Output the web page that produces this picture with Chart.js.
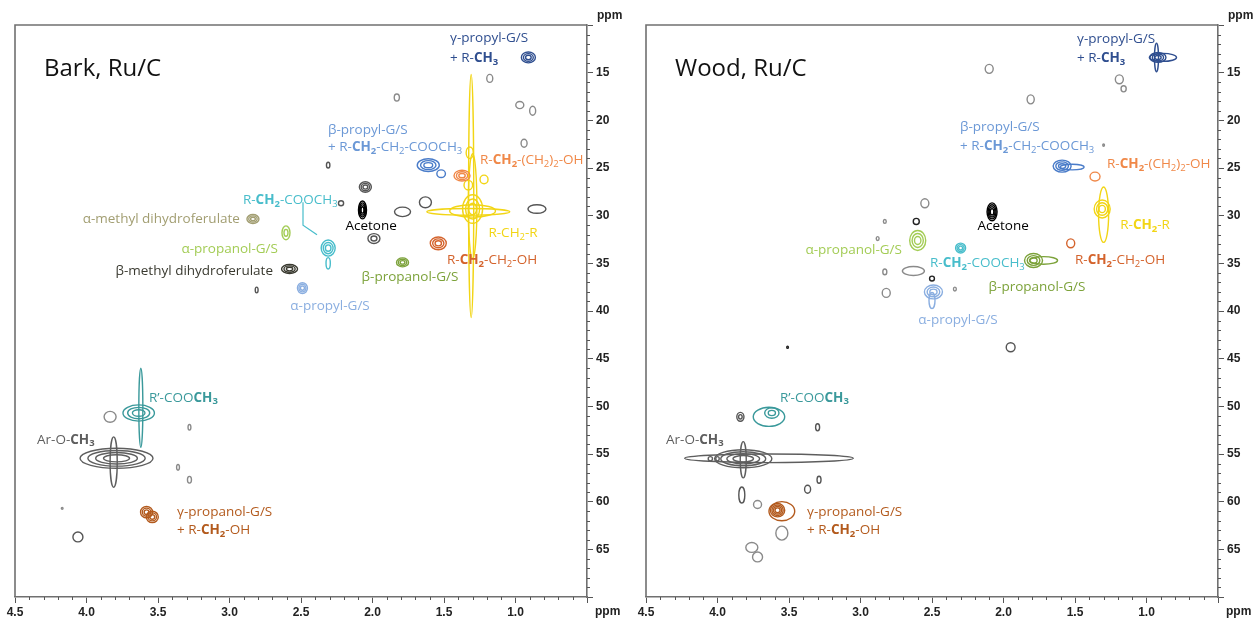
<!DOCTYPE html>
<html><head><meta charset="utf-8">
<script src="https://cdn.jsdelivr.net/npm/chart.js@4.4.1/dist/chart.umd.min.js"></script>
<style>
html,body{margin:0;padding:0;background:#fff;}
#wrap{position:relative;width:1253px;height:618px;overflow:hidden;background:#fff;}
canvas{position:absolute;top:0;}
</style></head><body>
<div id="wrap"><canvas id="bark" width="626" height="618" style="left:0"></canvas><canvas id="wood" width="627" height="618" style="left:626px"></canvas></div>
<script>
// ---- axis ranges (ppm) ----
const xLimits = [0.5, 4.5];      // 1H, reversed
const yLimits = [10, 70];        // 13C, reversed
const xMajor = 0.5, xMinor = 0.1;
const yMajor = 5, yMinor = 1;

// ---- peaks: [group, 1H ppm, 13C ppm, 1H half-spread, 13C half-spread, contour levels] ----
const barkPeaks = [
  ['g',1.18,15.6,0.021,0.42,1], ['g',1.83,17.6,0.018,0.37,1], ['g',0.97,18.4,0.028,0.37,1],
  ['g',0.88,19.0,0.021,0.47,1], ['g',0.94,22.4,0.021,0.42,1], ['dk',2.31,24.7,0.012,0.3,1],
  ['dk',2.05,27.0,0.042,0.55,3], ['dk',2.22,28.7,0.018,0.26,1], ['dk',1.63,28.6,0.042,0.57,1],
  ['dk',1.79,29.6,0.056,0.5,1], ['dk',1.99,32.4,0.042,0.52,2], ['dk',0.85,29.3,0.063,0.45,1],
  ['dk',2.81,37.8,0.01,0.3,1], ['g',3.835,51.1,0.042,0.57,1], ['g',3.28,52.2,0.01,0.3,1],
  ['g',3.36,56.4,0.01,0.3,1], ['g',3.28,57.7,0.014,0.35,1], ['g',4.17,60.7,0.006,0.1,1],
  ['dk',4.06,63.7,0.035,0.52,1],
  ['ac',2.07,29.4,0.028,0.94,4],
  ['gp',0.91,13.4,0.049,0.57,3],
  ['ye',1.31,27.95,0.018,12.75,1], ['ye',1.30,29.0,0.03,5.5,1], ['ye',1.33,29.6,0.29,0.35,1],
  ['ye',1.30,29.5,0.16,0.65,1], ['ye',1.30,29.3,0.07,1.5,3], ['ye',1.22,26.2,0.028,0.45,1],
  ['ye',1.32,23.4,0.025,0.6,1], ['ye',1.33,26.8,0.03,0.5,1],
  ['or',1.374,25.8,0.056,0.57,3],
  ['bp',1.61,24.7,0.077,0.67,3], ['bp',1.52,25.6,0.03,0.4,1],
  ['ro',1.54,32.9,0.056,0.67,3],
  ['bpo',1.79,34.9,0.042,0.47,3],
  ['tc',2.31,33.4,0.049,0.84,3], ['tc',2.31,35.0,0.015,0.6,1],
  ['ap',2.49,37.6,0.035,0.57,3],
  ['am',2.836,30.35,0.042,0.47,3],
  ['apo',2.605,31.8,0.028,0.73,2],
  ['bm',2.58,35.6,0.056,0.47,3],
  ['rc',3.635,50.7,0.11,0.85,3], ['rc',3.62,50.15,0.014,4.15,1],
  ['ao',3.79,55.45,0.255,1.05,4], ['ao',3.81,55.85,0.025,2.65,1],
  ['gpo',3.58,61.1,0.042,0.6,3], ['gpo',3.54,61.6,0.042,0.6,3]
];
const woodPeaks = [
  ['g',2.10,14.6,0.028,0.47,1], ['g',1.81,17.8,0.025,0.47,1], ['g',1.19,15.7,0.028,0.47,1],
  ['g',1.16,16.7,0.018,0.32,1], ['g',1.30,22.6,0.006,0.12,1], ['g',2.55,28.7,0.028,0.47,1],
  ['g',2.83,30.6,0.01,0.2,1], ['k',2.61,30.6,0.021,0.32,1], ['g',2.88,32.4,0.01,0.2,1],
  ['g',2.83,35.9,0.014,0.3,1], ['g',2.63,35.8,0.077,0.47,1], ['k',2.50,36.6,0.017,0.26,1],
  ['g',2.82,38.1,0.028,0.47,1], ['g',2.34,37.7,0.01,0.2,1], ['k',3.51,43.8,0.006,0.12,1],
  ['dk',1.95,43.8,0.031,0.47,1], ['dk',3.84,51.1,0.025,0.47,2], ['dk',3.30,52.2,0.014,0.37,1],
  ['dk',3.83,59.3,0.021,0.84,1], ['g',3.72,60.3,0.028,0.42,1], ['dk',3.37,58.7,0.021,0.42,1],
  ['dk',3.29,57.7,0.014,0.37,1], ['g',3.55,63.3,0.042,0.73,1], ['g',3.76,64.8,0.042,0.52,1],
  ['g',3.72,65.8,0.035,0.52,1],
  ['ac',2.08,29.6,0.035,0.94,4],
  ['gp',0.92,13.4,0.056,0.52,3], ['gp',0.885,13.4,0.095,0.42,1], ['gp',0.93,13.4,0.014,1.5,1],
  ['bp',1.59,24.8,0.063,0.63,3], ['bp',1.52,24.9,0.084,0.3,1],
  ['or',1.36,25.9,0.035,0.47,1],
  ['ye',1.30,29.9,0.035,2.9,1], ['ye',1.31,29.3,0.056,0.94,3],
  ['ro',1.53,32.9,0.028,0.47,1],
  ['bpo',1.79,34.7,0.063,0.73,3], ['bpo',1.72,34.7,0.098,0.4,1],
  ['tc',2.30,33.4,0.035,0.52,3],
  ['apo',2.60,32.6,0.056,1.05,3],
  ['ap',2.49,38.0,0.063,0.73,3], ['ap',2.50,38.9,0.021,0.84,1],
  ['rc',3.64,51.1,0.11,1.0,1], ['rc',3.62,50.7,0.05,0.55,2],
  ['ao',3.64,55.45,0.59,0.45,1], ['ao',3.82,55.5,0.2,0.94,4], ['ao',3.82,55.6,0.021,1.9,1],
  ['ao',4.05,55.5,0.015,0.22,1], ['ao',4.0,55.5,0.012,0.22,1],
  ['gpo',3.58,60.9,0.05,0.7,4], ['gpo',3.55,61.0,0.09,1.0,1]
];

// ---- annotations: [text, 1H ppm, 13C ppm, align, group] ({b} toggles bold, _x subscript) ----
const barkLabels = [
  ['γ-propyl-G/S',1.458,11.4,'left','gp'], ['+ R-{b}CH_3{b}',1.458,13.5,'left','gp'],
  ['β-propyl-G/S',2.311,21.0,'left','bpL'], ['+ R-{b}CH_2{b}-CH_2-COOCH_3',2.311,22.8,'left','bpL'],
  ['R-{b}CH_2{b}-(CH_2)_2-OH',1.248,24.2,'left','or'],
  ['R-{b}CH_2{b}-COOCH_3',2.906,28.4,'left','tc'],
  ['α-methyl dihydroferulate',2.927,30.35,'right','am'],
  ['Acetone',2.01,31.1,'center','ac'],
  ['α-propanol-G/S',2.661,33.5,'right','apo'],
  ['R-CH_2-R',1.017,31.8,'center','ye'],
  ['β-methyl dihydroferulate',2.696,35.8,'right','bm'],
  ['R-{b}CH_2{b}-CH_2-OH',1.164,34.65,'center','ro'],
  ['β-propanol-G/S',1.738,36.5,'center','bpo'],
  ['α-propyl-G/S',2.297,39.5,'center','ap'],
  ['R’-COO{b}CH_3{b}',3.563,49.1,'left','rc'],
  ['Ar-O-{b}CH_3{b}',4.346,53.5,'left','ao'],
  ['γ-propanol-G/S',3.367,61.1,'left','gpo'], ['+ R-{b}CH_2{b}-OH',3.367,63.0,'left','gpo']
];
const woodLabels = [
  ['γ-propyl-G/S',1.486,11.5,'left','gp'], ['+ R-{b}CH_3{b}',1.486,13.5,'left','gp'],
  ['β-propyl-G/S',2.304,20.7,'left','bpL'], ['+ R-{b}CH_2{b}-CH_2-COOCH_3',2.304,22.7,'left','bpL'],
  ['R-{b}CH_2{b}-(CH_2)_2-OH',1.276,24.6,'left','or'],
  ['Acetone',2.003,31.1,'center','ac'],
  ['R-{b}CH_2{b}-R',1.01,31.0,'center','ye'],
  ['α-propanol-G/S',2.71,33.6,'right','apo'],
  ['R-{b}CH_2{b}-COOCH_3',2.514,35.0,'left','tc'],
  ['R-{b}CH_2{b}-CH_2-OH',1.185,34.65,'center','ro'],
  ['β-propanol-G/S',1.766,37.5,'center','bpo'],
  ['α-propyl-G/S',2.318,41.0,'center','ap'],
  ['R’-COO{b}CH_3{b}',3.563,49.1,'left','rc'],
  ['Ar-O-{b}CH_3{b}',4.36,53.5,'left','ao'],
  ['γ-propanol-G/S',3.374,61.1,'left','gpo'], ['+ R-{b}CH_2{b}-OH',3.374,63.0,'left','gpo']
];
// leader line (Bark): label -> R-CH2-COOCH3 cross peak
const barkLeader = [[2.486,28.6],[2.486,31.0],[2.388,32.0]];

// ---- styles ----
const colors = {
  g:'#8a8a8a', dk:'#555555', k:'#222222', ac:'#000000', gp:'#2F4E8F', bp:'#4A7CC9', bpL:'#6B98D6',
  or:'#F08848', ye:'#F2D515', ro:'#D4632C', bpo:'#7CA23A', tc:'#48BDCB', ap:'#8AAEE0',
  am:'#A29E72', apo:'#A3CC55', bm:'#3A3A30', rc:'#3A999B', ao:'#5E5E5E', gpo:'#B35A1D'
};
const labelFont = '"Open Sans", "DejaVu Sans", sans-serif';
const LFS = 13.5, SFS = 9.5;

function parseRich(s){
  const segs=[]; let bold=false;
  for(let i=0;i<s.length;i++){
    if(s.startsWith('{b}',i)){bold=!bold;i+=2;continue;}
    let sub=false, ch=s[i];
    if(ch==='_'){sub=true; ch=s[i+1]; i++;}
    const last=segs[segs.length-1];
    if(last && last.b===bold && last.sub===sub) last.t+=ch; else segs.push({t:ch,b:bold,sub});
  }
  return segs;
}
function segFont(sg){ return (sg.b?'bold ':'')+(sg.sub?SFS:LFS)+'px '+labelFont; }
function drawRich(ctx,s,x,y,align,color){
  const segs=parseRich(s); let w=0;
  segs.forEach(sg=>{ctx.font=segFont(sg); sg.w=ctx.measureText(sg.t).width; w+=sg.w;});
  let cx = align==='left'?x:(align==='right'?x-w:x-w/2);
  ctx.fillStyle=color; ctx.textBaseline='middle'; ctx.textAlign='left';
  segs.forEach(sg=>{ctx.font=segFont(sg); ctx.fillText(sg.t,cx,y+(sg.sub?4:0)); cx+=sg.w;});
}

function buildDatasets(peaks){
  const groups=[...new Set(peaks.map(p=>p[0]))];
  return groups.map(g=>({
    label:g, borderColor:colors[g], backgroundColor:colors[g], pointRadius:0, pointHoverRadius:0,
    data:peaks.filter(p=>p[0]===g).map(p=>({x:p[1],y:p[2],dx:p[3],dy:p[4],n:p[5]}))
  }));
}

const contourPlugin = {
  id:'contours',
  afterDatasetsDraw(chart){
    const {ctx, chartArea:a, scales:{x:xs,y:ys}} = chart;
    ctx.save(); ctx.beginPath(); ctx.rect(a.left,a.top,a.width,a.height); ctx.clip();
    chart.data.datasets.forEach((ds,i)=>{
      const meta=chart.getDatasetMeta(i);
      meta.data.forEach((pt,j)=>{
        const d=ds.data[j];
        const rx=Math.abs(xs.getPixelForValue(d.x+d.dx)-pt.x);
        const ry=Math.abs(ys.getPixelForValue(d.y+d.dy)-pt.y);
        ctx.strokeStyle=ds.borderColor; ctx.lineWidth=1.4;
        for(let k=0;k<d.n;k++){
          const f = d.n===1?1:1-k*0.75/(d.n-0.5);
          ctx.beginPath();
          ctx.ellipse(pt.x,pt.y,Math.max(rx*f,0.8),Math.max(ry*f,0.8),0,0,Math.PI*2);
          ctx.stroke();
        }
      });
    });
    ctx.restore();
  },
  afterDraw(chart,args,opts){
    const {ctx, chartArea:a, scales:{x:xs,y:ys}} = chart;
    ctx.save();
    // frame top + left
    ctx.strokeStyle='#707070'; ctx.lineWidth=1.6;
    ctx.beginPath(); ctx.moveTo(a.left,a.bottom); ctx.lineTo(a.left,a.top); ctx.lineTo(a.right,a.top); ctx.stroke();
    // minor ticks
    ctx.strokeStyle='#555'; ctx.lineWidth=1;
    for(let i=Math.round(xLimits[0]/xMinor);i<=Math.round(xLimits[1]/xMinor);i++){
      if(i%5===0) continue;
      const px=Math.round(xs.getPixelForValue(i*xMinor))+0.5;
      ctx.beginPath(); ctx.moveTo(px,a.bottom); ctx.lineTo(px,a.bottom+3); ctx.stroke();
    }
    for(let v=yLimits[0];v<=yLimits[1];v+=yMinor){
      if(v%yMajor===0) continue;
      const py=Math.round(ys.getPixelForValue(v))+0.5;
      ctx.beginPath(); ctx.moveTo(a.right,py); ctx.lineTo(a.right+3,py); ctx.stroke();
    }
    // ppm labels
    ctx.fillStyle='#222'; ctx.font='bold 12px "Liberation Sans", Arial, sans-serif';
    ctx.textBaseline='middle'; ctx.textAlign='left';
    ctx.fillText('ppm',a.right+10,a.top-9);
    ctx.fillText('ppm',a.right+8,a.bottom+15);
    // title
    ctx.fillStyle='#111'; ctx.font='24px '+labelFont; ctx.textBaseline='alphabetic';
    ctx.fillText(opts.title,a.left+29,a.top+51);
    // leader line
    if(opts.leader){
      ctx.strokeStyle=colors.tc; ctx.lineWidth=1.2; ctx.beginPath();
      opts.leader.forEach((p,i)=>{const X=xs.getPixelForValue(p[0]),Y=ys.getPixelForValue(p[1]); i?ctx.lineTo(X,Y):ctx.moveTo(X,Y);});
      ctx.stroke();
    }
    // annotations
    opts.labels.forEach(l=>drawRich(ctx,l[0],xs.getPixelForValue(l[1]),ys.getPixelForValue(l[2]),l[3],colors[l[4]]));
    ctx.restore();
  }
};

function makeChart(id,peaks,labels,title,leader,pad,yw){
  return new Chart(document.getElementById(id),{
    type:'scatter',
    data:{datasets:buildDatasets(peaks)},
    options:{
      responsive:false, animation:false, events:[],
      layout:{padding:pad},
      plugins:{legend:{display:false},tooltip:{enabled:false},
        contours:{title,labels,leader}},
      scales:{
        x:{type:'linear',min:xLimits[0],max:xLimits[1],reverse:true,position:'bottom',
          afterFit(s){s.height=21;},
          border:{display:true,color:'#707070',width:1.6},
          grid:{drawOnChartArea:false,drawTicks:true,tickLength:6,color:'#555',lineWidth:1},
          ticks:{stepSize:xMajor,padding:2,color:'#222',maxRotation:0,autoSkip:false,
            font:{family:'"Liberation Sans", Arial, sans-serif',weight:'bold',size:12},
            callback:v=>Math.abs(v-xLimits[0])<1e-6?'':Number(v).toFixed(1)}},
        y:{type:'linear',min:yLimits[0],max:yLimits[1],reverse:true,position:'right',
          afterFit(s){s.width=yw;},
          border:{display:true,color:'#707070',width:1.6},
          grid:{drawOnChartArea:false,drawTicks:true,tickLength:6,color:'#555',lineWidth:1},
          ticks:{stepSize:yMajor,padding:3,color:'#222',autoSkip:false,
            font:{family:'"Liberation Sans", Arial, sans-serif',weight:'bold',size:12},
            callback:v=>(v===yLimits[0]||v===yLimits[1])?'':v}}
      }
    },
    plugins:[contourPlugin]
  });
}
makeChart('bark',barkPeaks,barkLabels,'Bark, Ru/C',barkLeader,{left:15,top:25,right:3,bottom:0},36);
makeChart('wood',woodPeaks,woodLabels,'Wood, Ru/C',null,{left:20,top:25,right:0,bottom:0},35);
</script>
</body></html>
